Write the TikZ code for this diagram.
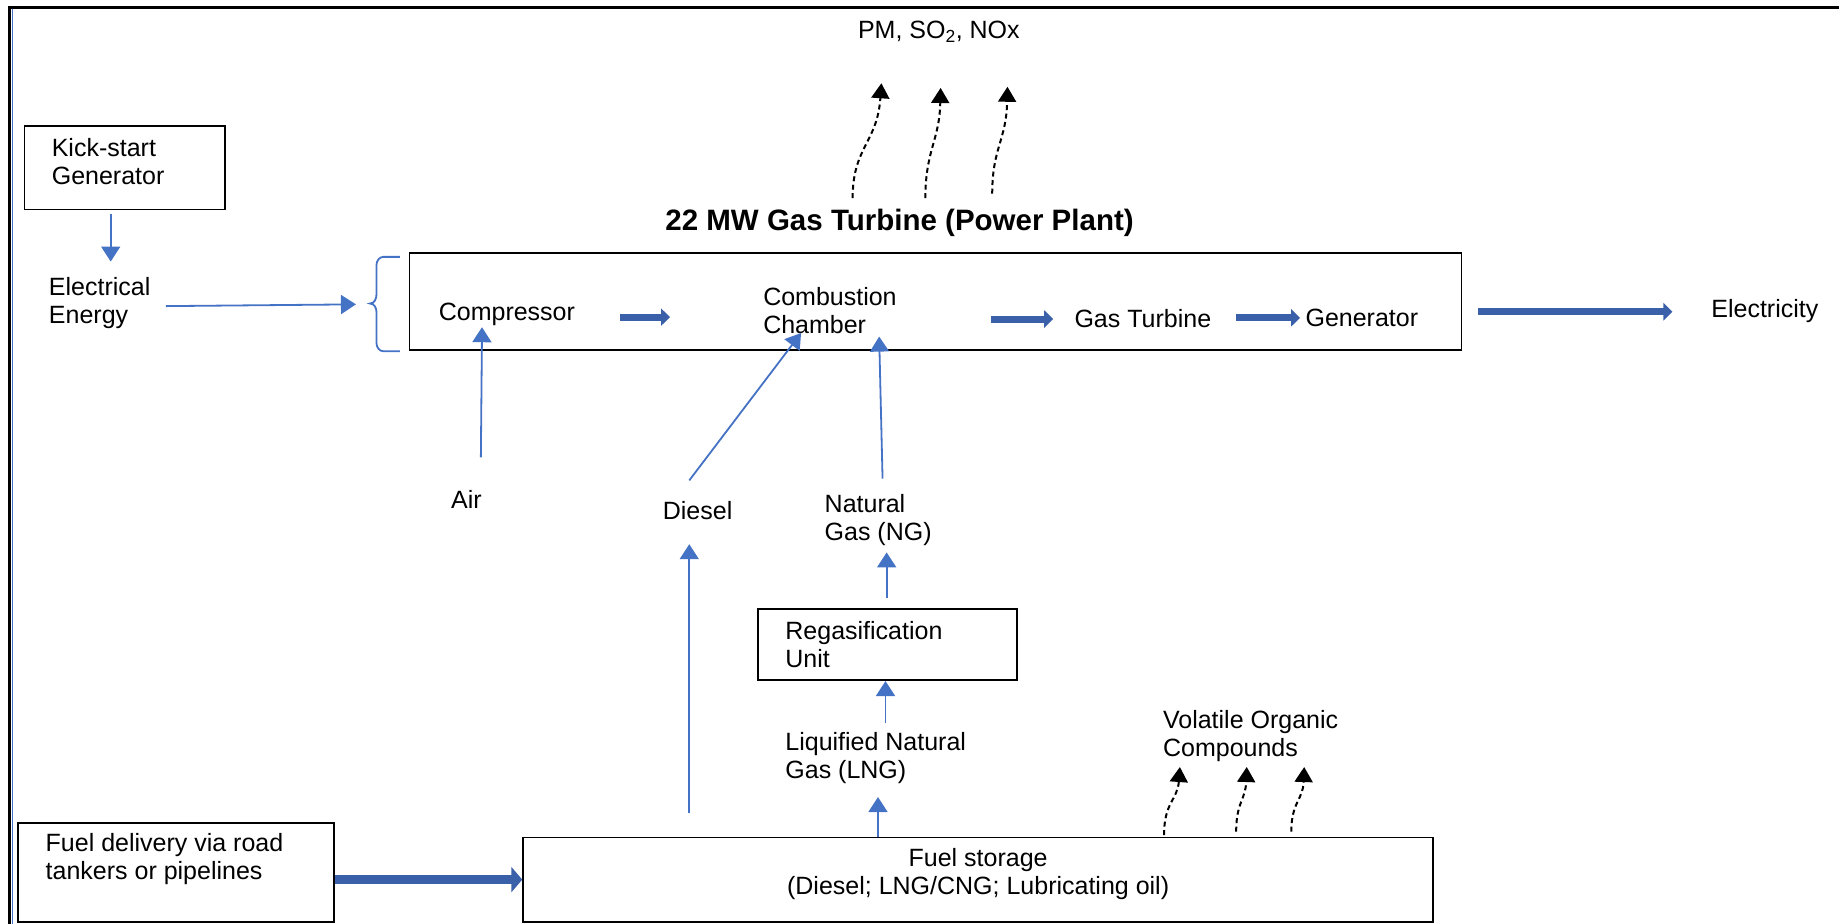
\documentclass[tikz,border=0pt]{standalone}
\usepackage{fontspec}
\setmainfont{Liberation Sans}
\usetikzlibrary{arrows.meta,calc,fit}
\definecolor{thinblue}{HTML}{4472C4}
\definecolor{blockblue}{HTML}{3A60AA}
\begin{document}
\begin{tikzpicture}[x=1.1728pt,y=-1.1728pt,
  box/.style={draw=black,line width=1.6pt,inner sep=0pt},
  lbl/.style={inner sep=0pt,anchor=west,align=left,font=\fontsize{25}{28}\selectfont},
  clbl/.style={inner sep=0pt,align=center,font=\fontsize{25}{28}\selectfont},
  titlelbl/.style={inner sep=0pt,font=\fontsize{29.5}{32}\selectfont\bfseries},
  thinarrow/.style={draw=thinblue,line width=1.8pt,-{Triangle[length=15pt,width=19pt]}},
  blockarrow/.style={draw=blockblue,line width=7pt,-{Triangle[length=9pt,width=17pt]}},
  fatarrow/.style={draw=blockblue,line width=9.5pt,-{Triangle[length=11pt,width=25pt]}},
  emitarrow/.style={draw=black,line width=2pt,dash pattern=on 5pt off 3.5pt,-{Triangle[length=15pt,width=18pt]}},
]
\useasboundingbox (0,0) rectangle (1568,787);
% outer frame
\draw[black,line width=3pt] (8.4,790) -- (8.4,6) -- (1570,6);
\draw[thinblue,line width=1pt] (11,7.5) -- (11,790);

% boxes
\node[box,fit={(21,107.5)(192,178.5)}] (kick) {};
\node[box,fit={(349,215.5)(1246,298.5)}] (main) {};
\node[box,fit={(646.5,519)(867,580)}] (regas) {};
\node[box,fit={(446,714)(1222,786)}] (storage) {};
\node[box,fit={(15.3,701.7)(284.8,786)}] (delivery) {};

% texts
\node[lbl] (kicktxt) at (44,138) {Kick-start\\Generator};
\node[lbl] (elec) at (41.6,258.5) {Electrical\\Energy};
\node[lbl] (comp) at (374,268) {Compressor};
\node[lbl] (comb) at (650.6,265) {Combustion\\Chamber};
\node[lbl] (gt) at (916,272) {Gas Turbine};
\node[lbl] (gen) at (1113,271) {Generator};
\node[lbl] (elc) at (1459,265) {Electricity};
\node[titlelbl] (title) at (767,190) {22 MW Gas Turbine (Power Plant)};
\node[clbl] (pm) at (800.5,27) {PM, SO\textsubscript{2}, NOx};
\node[lbl] (air) at (384.5,425.5) {Air};
\node[lbl] (diesel) at (565,435) {Diesel};
\node[lbl] (ng) at (703,443.5) {Natural\\Gas (NG)};
\node[lbl] (regtxt) at (669.5,549.5) {Regasification\\Unit};
\node[lbl] (lng) at (669.5,646) {Liquified Natural\\Gas (LNG)};
\node[clbl] (fs) at (834,745) {Fuel storage\\(Diesel; LNG/CNG; Lubricating oil)};
\node[lbl] (voc) at (991.5,627.5) {Volatile Organic\\Compounds};
\node[lbl] (fd) at (38.8,732.3) {Fuel delivery via road\\tankers or pipelines};

% connector end points
\coordinate (kd) at (94.4,223);
\coordinate (bt) at (303.5,259.5);
\coordinate (airtop) at (411,279);
\coordinate (airbot) at (410,390);
\coordinate (dtop) at (683,284);
\coordinate (dbot) at (587.7,409.6);
\coordinate (ngtop) at (749.6,287);
\coordinate (ngbot) at (752.5,408);
\coordinate (dltop) at (587.7,464);
\coordinate (dlbot) at (587.7,693);
\coordinate (ngstop) at (756,471);
\coordinate (ngsbot) at (756,510);
\coordinate (lngtop) at (755,616.5);
\coordinate (lngtip) at (748.6,679.6);
\coordinate (fa) at (0,750);
\coordinate (c1a) at (528.6,270.4);
\coordinate (c1b) at (571.3,270.4);
\coordinate (c2a) at (845,272);
\coordinate (c2b) at (898,272);
\coordinate (c3a) at (1053.6,271);
\coordinate (c3b) at (1108.5,271);
\coordinate (c4a) at (1260,265.8);
\coordinate (c4b) at (1426,265.8);

% blue thin arrows
\draw[thinarrow] (kick.south -| kd) ++(0,3.5) -- (kd);
\draw[thinarrow] ($(elec.east)+(13,2.5)$) -- (bt);
\draw[thinblue,line width=1.8pt] (341,219) -- (327,219) to[out=180,in=90] (321,226) -- (321,251) to[out=-90,in=0] (315.5,258.8) to[out=0,in=90] (321,266) -- (321,292.5) to[out=-90,in=180] (327,299.5) -- (341,299.5);
\draw[thinarrow] (airbot) -- (airtop);
\draw[thinarrow] (dbot) -- (dtop);
\draw[thinarrow] (ngbot) -- (ngtop);
\draw[thinarrow] (dlbot) -- (dltop);
\draw[thinarrow] (ngsbot) -- (ngstop);
\draw[thinarrow] (lngtop) -- (regas.south -| lngtop);
\draw[thinarrow] (storage.north -| lngtip) -- (lngtip);

% block arrows
\draw[blockarrow] (c1a) -- (c1b);
\draw[blockarrow] (c2a) -- (c2b);
\draw[blockarrow] (c3a) -- (c3b);
\draw[blockarrow] (c4a) -- (c4b);
\draw[fatarrow] (delivery.east |- fa) -- (storage.west |- fa);

% emissions
\draw[emitarrow] (727,169) .. controls (727,125) and (748,122) .. (751.5,71);
\draw[emitarrow] (789,169) .. controls (789,128) and (801,120) .. (802,75);
\draw[emitarrow] (846,165) .. controls (846,126) and (858,120) .. (859,74);
\draw[emitarrow] (992.5,712) .. controls (992.5,684) and (1004,682) .. (1006,654);
\draw[emitarrow] (1054,709) .. controls (1054,684) and (1062,682) .. (1063,654);
\draw[emitarrow] (1101,709) .. controls (1101,684) and (1111,682) .. (1112,654);
\end{tikzpicture}
\end{document}
